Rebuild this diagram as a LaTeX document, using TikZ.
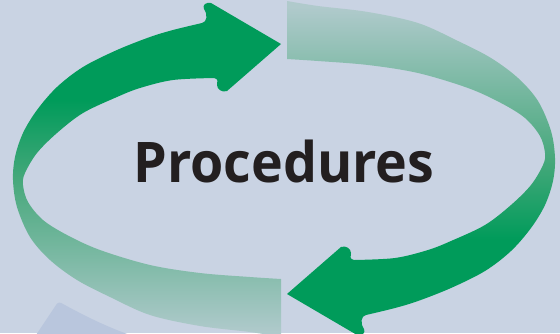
\documentclass[tikz,border=0pt]{standalone}
\usepackage{fontspec}
\setmainfont{Open Sans}
\definecolor{bg}{RGB}{201,211,227}
\definecolor{arrowgreen}{RGB}{0,155,90}
\definecolor{midc}{RGB}{70,168,123}
\definecolor{lightc}{RGB}{176,202,204}
\definecolor{blueshape}{RGB}{185,198,221}
\definecolor{textc}{RGB}{35,31,32}
\pgfdeclareverticalshading{lshade}{100bp}{color(0bp)=(lightc); color(25bp)=(lightc); color(48bp)=(midc); color(60bp)=(arrowgreen); color(100bp)=(arrowgreen)}
\pgfdeclareverticalshading{rshade}{100bp}{color(0bp)=(arrowgreen); color(39bp)=(arrowgreen); color(51bp)=(midc); color(74bp)=(lightc); color(100bp)=(lightc)}
\tikzset{
  titletext/.style={font=\fontsize{56}{60}\selectfont\bfseries, text=textc, anchor=base, inner sep=0pt, xscale=0.96}
}
\begin{document}
\begin{tikzpicture}[x=1pt,y=-1pt]
\useasboundingbox (0,0) rectangle (560,333);
\fill[bg] (0,0) rectangle (560,333);
% partial blue shape bottom-left
\fill[blueshape] (36,335) -- (56,305) .. controls (58,302) and (60,302) .. (63,304) .. controls (85,316) and (105,326) .. (130,335) -- cycle;
% two half-rings with arrows
\foreach \ang/\sh in {0/lshade,180/rshade}{
  \begin{scope}
    \clip[rotate around={\ang:(284,169)}] (281,279) -- (281,337)
      -- plot[smooth, tension=0.55] coordinates {(281,337) (250,332) (200,326) (150,315) (110,297) (77,280) (50,260) (30,237) (17,207) (13,180) (15,157) (23,133) (37,110) (57,87) (83,67) (117,50) (150,37) (173,30) (202,23)}
      .. controls (207,22) and (208,15) .. (204,9) .. controls (202,5) and (206,2) .. (211,3)
      -- (281,44) -- (227,91)
      .. controls (222,93) and (217,89) .. (217,85) .. controls (217,82) and (219,79) .. (214,78)
      -- plot[smooth, tension=0.55] coordinates {(214,78) (173,80) (140,88) (117,97) (83,113) (57,133) (37,153) (25,173) (23,185) (28,202) (43,220) (67,235) (100,250) (150,265) (200,273) (250,277) (281,279)}
      -- cycle;
    \shade[shading=\sh] (0,0) rectangle (560,333);
  \end{scope}
}
\node[titletext] (title) at (284,182) {Procedures};
\end{tikzpicture}
\end{document}
